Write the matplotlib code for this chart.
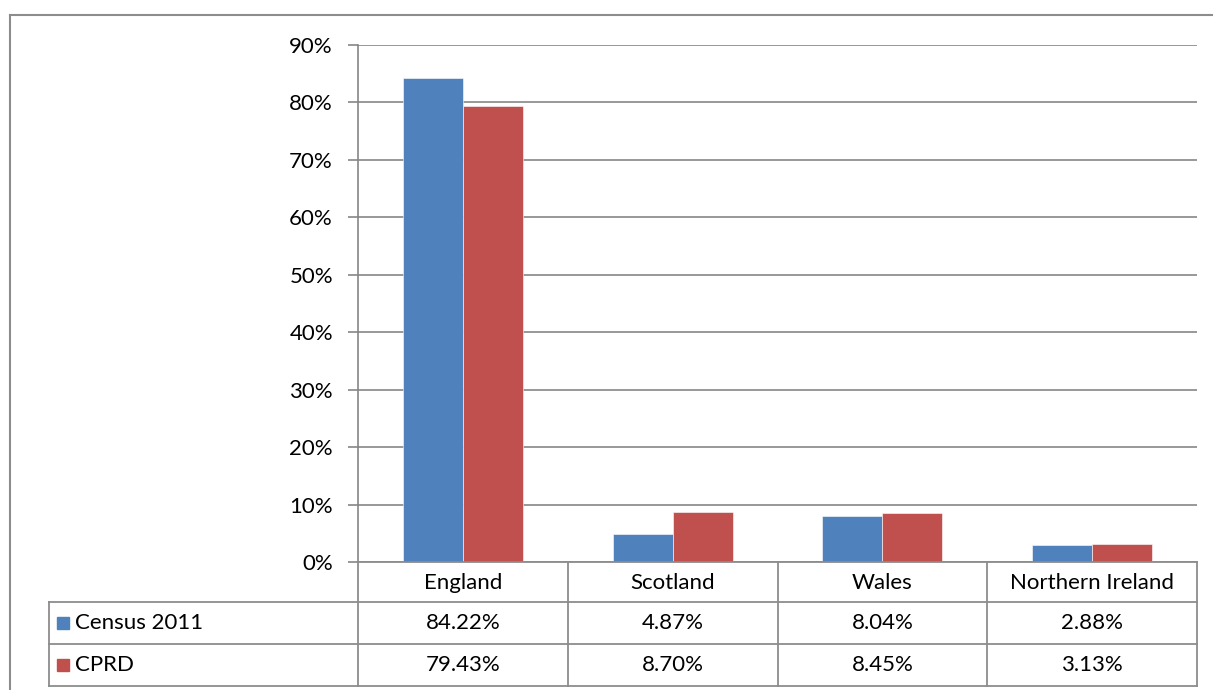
import matplotlib
matplotlib.use("Agg")
import matplotlib.pyplot as plt
from matplotlib.patches import Rectangle
import numpy as np

categories = ["England", "Scotland", "Wales", "Northern Ireland"]
series_names = ["Census 2011", "CPRD"]
census = [84.22, 4.87, 8.04, 2.88]
cprd = [79.43, 8.70, 8.45, 3.13]
colors = ["#4F81BD", "#C0504D"]
yticks = [0, 10, 20, 30, 40, 50, 60, 70, 80, 90]

plt.rcParams['font.family'] = ['Lato', 'DejaVu Sans']
W, H = 1213, 690
fig = plt.figure(figsize=(W / 100, H / 100), dpi=100)
fig.patch.set_facecolor("white")

grid_c = "#868686"
px_l, px_r, px_t, px_b = 358, 1197, 45, 562
ax = fig.add_axes([px_l / W, (H - px_b) / H, (px_r - px_l) / W, (px_b - px_t) / H])
x = np.arange(len(categories))
bw = 0.286
ax.bar(x - bw / 2, census, bw, color=colors[0], edgecolor="white", linewidth=0.4, zorder=3)
ax.bar(x + bw / 2, cprd, bw, color=colors[1], edgecolor="white", linewidth=0.4, zorder=3)
ax.set_xlim(-0.5, len(categories) - 0.5)
ax.set_ylim(0, 90)
ax.set_yticks(yticks)
ax.set_yticklabels([f"{t}%" for t in yticks], fontsize=16)
ax.yaxis.grid(True, color=grid_c, linewidth=1.2, zorder=0)
ax.set_xticks([])
for s in ["top", "right", "bottom"]:
    ax.spines[s].set_visible(False)
ax.spines["left"].set_color(grid_c)
ax.spines["left"].set_linewidth(1.2)
ax.tick_params(axis="y", length=7, width=1.2, color=grid_c, pad=11)

# overlay for table and border
ov = fig.add_axes([0, 0, 1, 1], zorder=5)
ov.set_xlim(0, W)
ov.set_ylim(H, 0)
ov.axis("off")
ov.patch.set_alpha(0)

lc = "#8C8C8C"
lw = 1.3
ov.plot([10, W + 5], [15, 15], color=lc, lw=1.5)
ov.plot([10, 10], [15, H + 5], color=lc, lw=1.5)

col_edges = np.linspace(px_l, px_r, len(categories) + 1)
row_edges = [562, 602, 644, 686]
left_tab = 49
ov.plot([px_l, px_r], [row_edges[0], row_edges[0]], color=lc, lw=lw)
for r in row_edges[1:]:
    ov.plot([left_tab, px_r], [r, r], color=lc, lw=lw)
for c in col_edges:
    ov.plot([c, c], [row_edges[0], row_edges[-1]], color=lc, lw=lw)
ov.plot([left_tab, left_tab], [row_edges[1], row_edges[-1]], color=lc, lw=lw)

fs = 16
for i, cat in enumerate(categories):
    cx = (col_edges[i] + col_edges[i + 1]) / 2
    ov.text(cx, (row_edges[0] + row_edges[1]) / 2 + 1, cat, ha="center", va="center", fontsize=fs)
for j, (name, vals) in enumerate(zip(series_names, [census, cprd])):
    cy = (row_edges[j + 1] + row_edges[j + 2]) / 2
    ov.add_patch(Rectangle((57, cy - 6), 12, 12, color=colors[j]))
    ov.text(75, cy, name, ha="left", va="center", fontsize=fs)
    for i, v in enumerate(vals):
        cx = (col_edges[i] + col_edges[i + 1]) / 2
        ov.text(cx, cy, f"{v:.2f}%", ha="center", va="center", fontsize=fs)

fig.savefig("out.png", dpi=100)
